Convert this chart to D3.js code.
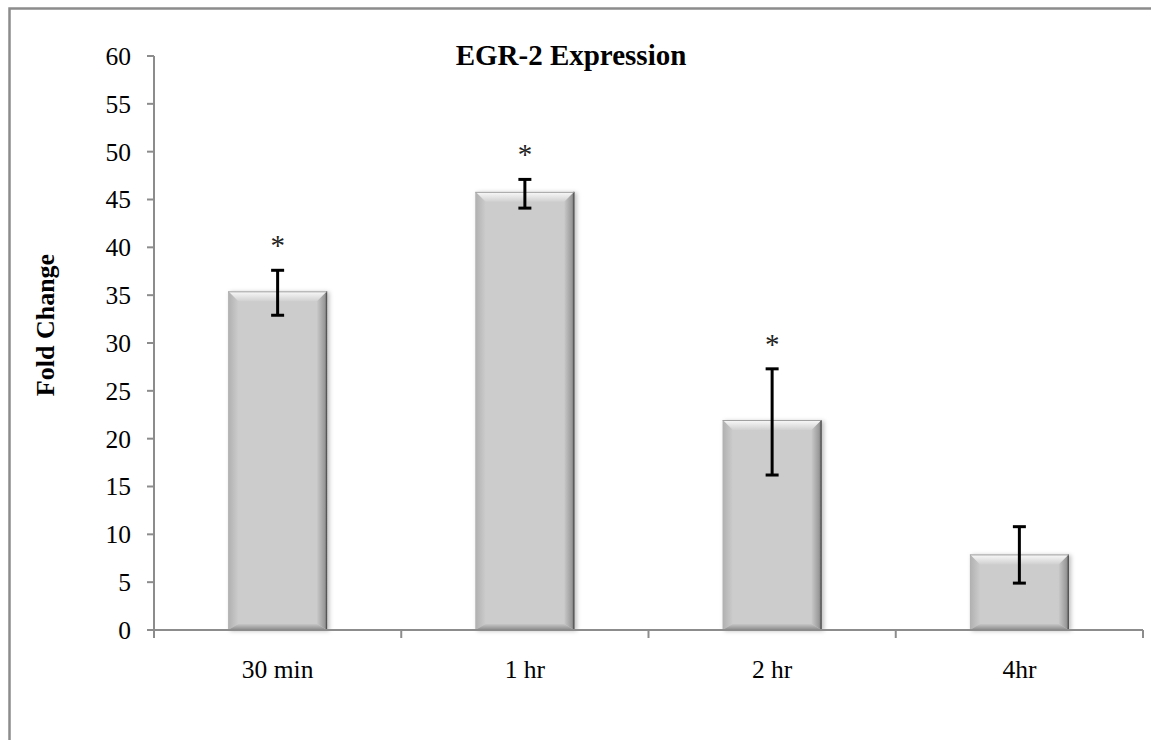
<!DOCTYPE html>
<html>
<head>
<meta charset="utf-8">
<script src="https://cdn.jsdelivr.net/npm/d3@7"></script>
<style>
  body { margin: 0; background: #fff; }
  text { font-family: "Liberation Serif", "Times New Roman", serif; fill: #000; }
</style>
</head>
<body>
<svg width="1151" height="740"></svg>
<script>
const categories = ["30 min", "1 hr", "2 hr", "4hr"];
const foldChange = [35.4, 45.8, 21.95, 7.9];
const errLow = [32.9, 44.1, 16.2, 4.9];
const errHigh = [37.6, 47.1, 27.3, 10.8];
const significant = [true, true, true, false];
const yTicks = d3.range(0, 61, 5);

const svg = d3.select("svg");

// outer chart frame (runs off the right and bottom edges)
svg.append("rect")
  .attr("x", 9.5).attr("y", 8.5)
  .attr("width", 1160).attr("height", 760)
  .attr("fill", "none")
  .attr("stroke", "#8c8c8c")
  .attr("stroke-width", 2.5);

const x = d3.scaleBand()
  .domain(categories)
  .range([154, 1143])
  .paddingInner(0.6)
  .paddingOuter(0.3);

const y = d3.scaleLinear().domain([0, 60]).range([630, 56]);

const step = x.step();
const x0 = 154;

// defs for bar bevels
const defs = svg.append("defs");
function grad(id, x1, y1, x2, y2, stops) {
  const g = defs.append("linearGradient").attr("id", id)
    .attr("x1", x1).attr("y1", y1).attr("x2", x2).attr("y2", y2);
  stops.forEach(s => g.append("stop").attr("offset", s[0]).attr("stop-color", s[1]));
}
grad("gTop", 0, 0, 0, 1, [[0, "#fafafa"], [1, "#d0d0d0"]]);
grad("gRight", 1, 0, 0, 0, [[0, "#666"], [0.25, "#999"], [1, "#c8c8c8"]]);
grad("gBottom", 0, 1, 0, 0, [[0, "#8a8a8a"], [1, "#c6c6c6"]]);
grad("gLeft", 0, 0, 1, 0, [[0, "#b0b0b0"], [1, "#cbcbcb"]]);

const filt = defs.append("filter").attr("id", "shadow")
  .attr("x", "-10%").attr("y", "-10%").attr("width", "130%").attr("height", "130%");
filt.append("feDropShadow").attr("dx", 2).attr("dy", 1).attr("stdDeviation", 2)
  .attr("flood-color", "#000").attr("flood-opacity", 0.25);

// y axis
const yAxis = svg.append("g").attr("transform", `translate(${x0},0)`);
yAxis.append("line")
  .attr("x1", 0).attr("x2", 0).attr("y1", y(60)).attr("y2", y(0) + 7)
  .attr("stroke", "#8c8c8c").attr("stroke-width", 2);
yTicks.forEach(t => {
  yAxis.append("line")
    .attr("x1", -7).attr("x2", 0).attr("y1", y(t)).attr("y2", y(t))
    .attr("stroke", "#8c8c8c").attr("stroke-width", 2);
  yAxis.append("text")
    .attr("x", -23).attr("y", y(t)).attr("dy", "0.35em")
    .attr("text-anchor", "end").style("font-size", "25.5px")
    .text(t);
});

// bars
const B = 10;
categories.forEach((c, i) => {
  const bx = x(c), bw = x.bandwidth();
  const by = y(foldChange[i]), bh = y(0) - by;
  const g = svg.append("g").attr("filter", "url(#shadow)");
  g.append("rect").attr("x", bx).attr("y", by).attr("width", bw).attr("height", bh)
    .attr("fill", "#cccccc");
  const pts = a => a.map(p => p.join(",")).join(" ");
  g.append("polygon").attr("fill", "url(#gTop)")
    .attr("points", pts([[bx, by], [bx + bw, by], [bx + bw - B, by + B], [bx + B, by + B]]));
  g.append("polygon").attr("fill", "url(#gLeft)")
    .attr("points", pts([[bx, by], [bx + B, by + B], [bx + B, by + bh - B * 0.6], [bx, by + bh]]));
  g.append("polygon").attr("fill", "url(#gRight)")
    .attr("points", pts([[bx + bw, by], [bx + bw, by + bh], [bx + bw - B, by + bh - B * 0.6], [bx + bw - B, by + B]]));
  g.append("polygon").attr("fill", "url(#gBottom)")
    .attr("points", pts([[bx, by + bh], [bx + bw, by + bh], [bx + bw - B, by + bh - B * 0.6], [bx + B, by + bh - B * 0.6]]));
  g.append("line").attr("x1", bx + bw - 0.5).attr("x2", bx + bw - 0.5)
    .attr("y1", by).attr("y2", by + bh).attr("stroke", "#555").attr("stroke-width", 1.2);
  g.append("line").attr("x1", bx).attr("x2", bx + bw)
    .attr("y1", by + 0.5).attr("y2", by + 0.5).attr("stroke", "#a0a0a0").attr("stroke-width", 1);
});

// x axis
const xAxis = svg.append("g");
xAxis.append("line")
  .attr("x1", x0).attr("x2", 1143).attr("y1", y(0)).attr("y2", y(0))
  .attr("stroke", "#8c8c8c").attr("stroke-width", 2);
d3.range(categories.length + 1).forEach(k => {
  const tx = x0 + k * step;
  xAxis.append("line")
    .attr("x1", tx).attr("x2", tx).attr("y1", y(0)).attr("y2", y(0) + 8)
    .attr("stroke", "#8c8c8c").attr("stroke-width", 2);
});
categories.forEach(c => {
  xAxis.append("text")
    .attr("x", x(c) + x.bandwidth() / 2).attr("y", 678)
    .attr("text-anchor", "middle").style("font-size", "25.5px")
    .text(c);
});

// error bars
categories.forEach((c, i) => {
  const cx = x(c) + x.bandwidth() / 2;
  const g = svg.append("g").attr("stroke", "#000").attr("stroke-width", 3);
  g.append("line").attr("x1", cx).attr("x2", cx).attr("y1", y(errHigh[i])).attr("y2", y(errLow[i]));
  [errHigh[i], errLow[i]].forEach(v => {
    g.append("line").attr("x1", cx - 6.5).attr("x2", cx + 6.5).attr("y1", y(v)).attr("y2", y(v));
  });
  if (significant[i]) {
    svg.append("text")
      .attr("x", cx).attr("y", y(errHigh[i]) - 15)
      .attr("text-anchor", "middle").style("font-size", "29px")
      .style("fill", "#222")
      .text("*");
  }
});

// title
svg.append("text")
  .attr("x", 571).attr("y", 65)
  .attr("text-anchor", "middle")
  .style("font-size", "29px").style("font-weight", "bold")
  .text("EGR-2 Expression");

// y label
svg.append("text")
  .attr("transform", "translate(54,325) rotate(-90)")
  .attr("text-anchor", "middle")
  .style("font-size", "26px").style("font-weight", "bold")
  .text("Fold Change");
</script>
</body>
</html>
